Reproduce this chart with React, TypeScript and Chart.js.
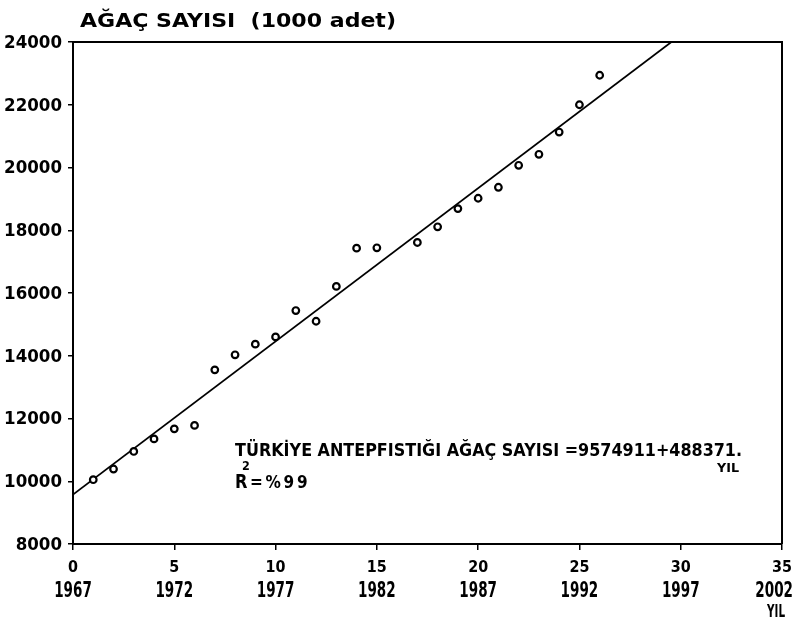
import React, { useEffect, useRef } from "react";
import { Chart, registerables } from "chart.js";

Chart.register(...registerables);

// Yıl sırası (1966 = 0) ve ağaç sayısı (1000 adet)
const YEAR_INDEX = [1, 2, 3, 4, 5, 6, 7, 8, 9, 10, 11, 12, 13, 14, 15, 17, 18, 19, 20, 21, 22, 23, 24, 25, 26];
const TREES = [
  10050, 10390, 10950, 11350, 11670, 11780, 13550, 14030, 14370, 14600, 15440, 15100, 16210,
  17430, 17440, 17610, 18110, 18690, 19020, 19370, 20070, 20420, 21130, 22000, 22940,
];

// Regresyon doğrusu: AĞAÇ SAYISI = 9574911 + 488371 . YIL (1000 adet cinsinden)
const INTERCEPT = 9574.911;
const SLOPE = 488.371;
const LINE_X = [0, 29.54];

// Eksen etiketleri
const Y_TICKS = [8000, 10000, 12000, 14000, 16000, 18000, 20000, 22000, 24000];
const X_TICKS = [0, 5, 10, 15, 20, 25, 30, 35];
const X_YEARS = ["1967", "1972", "1977", "1982", "1987", "1992", "1997", "2002"];

const TITLE = "AĞAÇ SAYISI  (1000 adet)";
const EQUATION = "TÜRKİYE ANTEPFISTIĞI AĞAÇ SAYISI =9574911+488371.";
const EQUATION_UNIT = "YIL";
const R2_TEXT = "=%99";
const X_UNIT = "YIL";

const FAMILY = "'DejaVu Sans', sans-serif";

// Kalın yazı çizer; sx yatay ölçek katsayısı
function drawText(
  ctx: CanvasRenderingContext2D,
  text: string,
  x: number,
  y: number,
  size: number,
  sx: number,
  align: CanvasTextAlign = "left",
  baseline: CanvasTextBaseline = "alphabetic",
  spacing = 0
) {
  ctx.save();
  ctx.font = `bold ${size}px ${FAMILY}`;
  (ctx as any).letterSpacing = `${spacing}px`;
  ctx.textAlign = align;
  ctx.textBaseline = baseline;
  ctx.translate(x, y);
  ctx.scale(sx, 1);
  ctx.fillText(text, 0, 0);
  ctx.restore();
}

function widthOf(ctx: CanvasRenderingContext2D, text: string, size: number) {
  ctx.save();
  ctx.font = `bold ${size}px ${FAMILY}`;
  const w = ctx.measureText(text).width;
  ctx.restore();
  return w;
}

const decorations = {
  id: "decorations",
  afterDraw(chart: any) {
    const { ctx, chartArea, scales } = chart;
    const xs = scales.x;
    const ys = scales.y;
    ctx.save();

    // kutu: üst ve sağ kenar
    ctx.strokeStyle = "#000";
    ctx.lineWidth = 2;
    ctx.beginPath();
    ctx.moveTo(chartArea.left, chartArea.top);
    ctx.lineTo(chartArea.right, chartArea.top);
    ctx.lineTo(chartArea.right, chartArea.bottom);
    ctx.stroke();
    ctx.fillStyle = "#000";

    // y ekseni değerleri
    Y_TICKS.forEach((v) => {
      drawText(ctx, String(v), chartArea.left - 11, ys.getPixelForValue(v) + 1, 18.5, 0.9, "right", "middle");
    });

    // x ekseni: sıra numarası ve yıl
    const limit = chart.width - 1;
    X_TICKS.forEach((v, i) => {
      const px = xs.getPixelForValue(v);
      const wNum = widthOf(ctx, String(v), 16.5) * 0.87;
      const wYear = widthOf(ctx, X_YEARS[i], 20.5) * 0.66;
      const cNum = Math.min(px, limit - wNum / 2);
      const cYear = Math.min(px, limit - wYear / 2);
      drawText(ctx, String(v), cNum, 572, 16.5, 0.87, "center");
      drawText(ctx, X_YEARS[i], cYear, 597, 20.5, 0.66, "center");
    });
    drawText(ctx, X_UNIT, 776, 617, 17, 18 / widthOf(ctx, X_UNIT, 17), "center");

    // başlık
    drawText(ctx, TITLE, 80, 27, 19, 316 / widthOf(ctx, TITLE, 19), "left");

    // regresyon denklemi
    const ax = xs.getPixelForValue(8);
    drawText(ctx, EQUATION, ax, ys.getPixelForValue(10800), 17.5, 507 / widthOf(ctx, EQUATION, 17.5), "left");
    drawText(ctx, EQUATION_UNIT, ax + 504, ys.getPixelForValue(10290), 13, 22 / widthOf(ctx, EQUATION_UNIT, 13), "right");
    const rb = ys.getPixelForValue(9800);
    drawText(ctx, "R", ax, rb, 19, 0.85, "left");
    drawText(ctx, "2", ax + 7, rb - 18, 12.5, 0.9, "left");
    drawText(ctx, R2_TEXT, ax + 15, rb, 17, 0.9, "left", "alphabetic", 3);

    ctx.restore();
  },
};

export default function App() {
  const canvasRef = useRef<HTMLCanvasElement | null>(null);

  useEffect(() => {
    const canvas = canvasRef.current;
    if (!canvas) return;

    const points = YEAR_INDEX.map((x, i) => ({ x, y: TREES[i] }));
    const line = LINE_X.map((x) => ({ x, y: INTERCEPT + SLOPE * x }));

    const chart = new Chart(canvas, {
      type: "scatter",
      data: {
        datasets: [
          {
            label: "Ağaç sayısı",
            data: points,
            pointStyle: "circle",
            pointRadius: 3.3,
            pointBorderWidth: 2.2,
            borderColor: "#000",
            backgroundColor: "#fff",
            showLine: false,
          },
          {
            label: "Regresyon",
            data: line,
            showLine: true,
            pointRadius: 0,
            borderColor: "#000",
            borderWidth: 1.7,
            fill: false,
          },
        ],
      },
      options: {
        responsive: false,
        animation: false,
        events: [],
        layout: { padding: { top: 42, right: 12, left: 0, bottom: 0 } },
        plugins: {
          legend: { display: false },
          tooltip: { enabled: false },
          title: { display: false },
        },
        scales: {
          x: {
            type: "linear",
            min: 0,
            max: 35,
            ticks: { display: false, stepSize: 5 },
            grid: {
              drawOnChartArea: false,
              drawTicks: true,
              tickLength: 6,
              color: "#000",
              lineWidth: 1.5,
            },
            border: { display: true, color: "#000", width: 2 },
            afterFit: (scale: any) => {
              scale.height = 84;
            },
          },
          y: {
            type: "linear",
            min: 8000,
            max: 24000,
            ticks: { display: false, stepSize: 2000 },
            grid: {
              drawOnChartArea: false,
              drawTicks: true,
              tickLength: 5,
              color: "#000",
              lineWidth: 1.5,
            },
            border: { display: true, color: "#000", width: 2 },
            afterFit: (scale: any) => {
              scale.width = 73;
            },
          },
        },
      },
      plugins: [decorations],
    });

    return () => chart.destroy();
  }, []);

  return (
    <div style={{ position: "absolute", left: 0, top: 0, width: 794, height: 628, background: "#fff" }}>
      <canvas ref={canvasRef} width={794} height={628} />
    </div>
  );
}
